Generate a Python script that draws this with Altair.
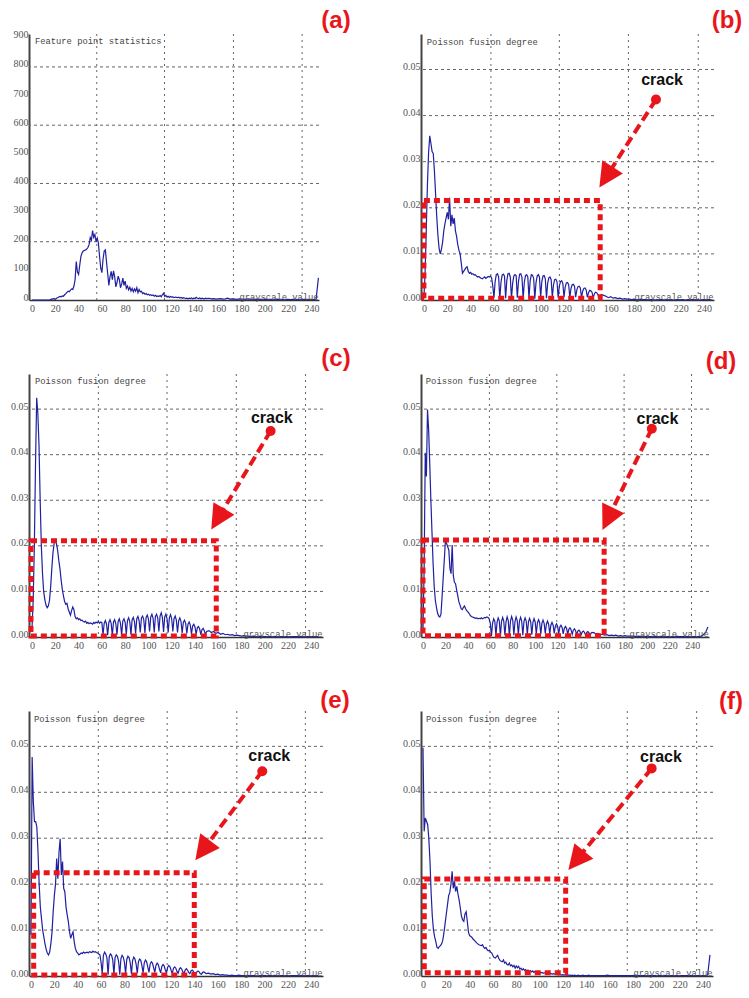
import math
import altair as alt
import pandas as pd

# ---------------- data ----------------
GRAY_X = list(range(0, 150)) + list(range(150, 248, 2))
GRAY_X_D = list(range(0, 150)) + list(range(150, 256, 2))
X_TICKS = list(range(0, 241, 20))

# (a) feature point counts
A_VALUES = [
    0, 0, 0, 0, 0, 0, 0, 0, 0, 0,
    0, 0, 0, 0, 0, 0, 2, 4, 3, 5,
    2, 6, 8, 10, 12, 11, 14, 13, 18, 22,
    26, 30, 28, 34, 38, 36, 48, 70, 132, 96,
    88, 120, 150, 162, 168, 170, 172, 175, 180, 190,
    214, 205, 238, 215, 225, 200, 212, 195, 150, 110,
    94, 140, 168, 172, 130, 90, 50, 80, 98, 70,
    100, 80, 45, 60, 82, 70, 42, 55, 75, 50,
    65, 40, 48, 35, 44, 31, 40, 28, 38, 30,
    42, 25, 36, 28, 30, 22, 25, 20, 22, 18,
    20, 16, 18, 15, 17, 13, 16, 12, 14, 12,
    15, 11, 18, 23, 12, 16, 10, 13, 9, 12,
    10, 11, 8, 10, 9, 8, 10, 7, 9, 6,
    8, 7, 5, 6, 4, 6, 5, 7, 4, 6,
    5, 9, 6, 5, 7, 4, 6, 5, 4, 6,
    5, 6, 4, 5, 3, 4, 5, 3, 4, 6,
    3, 4, 3, 2, 4, 3, 2, 3, 4, 2,
    3, 2, 3, 2, 2, 3, 2, 2, 1, 2,
    3, 2, 2, 1, 2, 2, 1, 2, 2, 1,
    2, 1, 2, 2, 1, 2, 1, 3, 76,
]

# Poisson fusion degree, in units of 1e-4
B_VALUES = [
    5, 60, 150, 250, 320, 356, 340, 322, 318, 280,
    230, 180, 140, 112, 100, 110, 125, 150, 165, 178,
    190, 175, 222, 160, 185, 165, 178, 150, 138, 120,
    108, 100, 80, 58, 62, 66, 70, 72, 62, 58,
    60, 56, 57, 54, 55, 52, 50, 51, 49, 47,
    46, 48, 50, 47, 49, 51, 50, 52, 48, 30,
    5, 40, 55, 57, 50, 3, 38, 54, 56, 52,
    4, 42, 57, 58, 50, 2, 36, 52, 55, 53,
    5, 40, 56, 57, 49, 3, 38, 53, 55, 50,
    4, 41, 55, 54, 47, 3, 37, 52, 55, 50,
    5, 40, 52, 53, 46, 4, 36, 48, 50, 44,
    6, 33, 44, 45, 40, 5, 30, 40, 42, 36,
    6, 28, 37, 38, 33, 5, 25, 33, 34, 30,
    6, 22, 29, 30, 26, 5, 19, 25, 26, 22,
    6, 16, 21, 20, 17, 5, 13, 17, 16, 12,
    6, 12, 10, 8, 5, 7, 4, 5, 3, 4,
    2, 3, 2, 2, 1, 2, 1, 1, 2, 1,
    1, 1, 1, 1, 0, 1, 1, 1, 0, 1,
    1, 1, 0, 1, 1, 1, 1, 0, 1, 1,
    1, 1, 1, 0, 1, 1, 1, 1, 1,
]

C_VALUES = [
    20, 80, 200, 380, 525, 490, 420, 300, 200, 140,
    100, 82, 70, 64, 68, 80, 110, 150, 185, 205,
    215, 205, 190, 168, 150, 125, 105, 90, 78, 72,
    74, 62, 55, 48, 58, 66, 60, 45, 40, 42,
    38, 40, 36, 37, 34, 33, 35, 30, 32, 29,
    31, 30, 28, 32, 30, 33, 31, 34, 30, 33,
    32, 5, 30, 36, 28, 4, 32, 38, 30, 3,
    33, 38, 29, 5, 34, 40, 30, 4, 35, 40,
    32, 6, 36, 42, 33, 5, 38, 43, 34, 8,
    40, 45, 36, 10, 42, 46, 38, 9, 43, 48,
    40, 12, 44, 50, 41, 10, 45, 50, 42, 12,
    46, 53, 43, 11, 44, 50, 40, 10, 42, 49,
    40, 12, 40, 46, 37, 10, 36, 42, 34, 9,
    32, 37, 30, 8, 28, 33, 26, 7, 24, 28,
    22, 6, 20, 23, 18, 5, 16, 19, 14, 5,
    12, 14, 10, 12, 8, 10, 6, 8, 5, 6,
    4, 5, 3, 4, 3, 2, 3, 2, 2, 1,
    2, 1, 1, 2, 1, 1, 1, 1, 1, 1,
    1, 1, 1, 1, 1, 1, 1, 1, 1, 1,
    1, 1, 1, 1, 1, 1, 1, 1, 1,
]

D_VALUES = [
    20, 150, 404, 352, 499, 455, 380, 300, 230, 160,
    110, 80, 65, 52, 46, 44, 50, 88, 130, 170,
    213, 205, 198, 191, 150, 139, 202, 135, 120, 117,
    103, 90, 77, 70, 62, 60, 65, 68, 62, 58,
    55, 52, 48, 45, 44, 43, 42, 41, 42, 40,
    41, 40, 42, 40, 41, 43, 42, 44, 43, 40,
    30, 2, 30, 40, 35, 3, 32, 42, 36, 2,
    34, 43, 35, 4, 33, 44, 36, 3, 35, 45,
    37, 4, 34, 44, 36, 5, 35, 43, 35, 4,
    34, 42, 35, 6, 33, 41, 34, 5, 32, 40,
    33, 7, 31, 38, 32, 6, 30, 37, 30, 8,
    28, 35, 28, 7, 26, 32, 26, 8, 24, 29,
    24, 7, 22, 26, 21, 7, 19, 23, 19, 6,
    17, 20, 16, 6, 15, 18, 14, 5, 13, 15,
    12, 5, 11, 13, 10, 4, 10, 12, 9, 4,
    9, 10, 7, 8, 5, 6, 4, 5, 3, 4,
    3, 4, 2, 3, 2, 3, 2, 2, 2, 2,
    1, 2, 1, 2, 1, 2, 1, 1, 2, 1,
    1, 1, 2, 1, 1, 1, 1, 1, 2, 1,
    1, 1, 1, 1, 1, 1, 1, 1, 1, 2,
    5, 10, 22,
]

E_VALUES = [
    90, 477, 380, 336, 336, 325, 270, 200, 150, 125,
    100, 85, 70, 58, 50, 46, 52, 70, 95, 140,
    175, 200, 256, 212, 270, 299, 220, 249, 191, 183,
    150, 133, 118, 96, 82, 90, 96, 75, 60, 53,
    50, 46, 48, 50, 49, 52, 50, 51, 52, 50,
    53, 52, 51, 54, 52, 53, 51, 50, 48, 46,
    30, 5, 45, 52, 48, 40, 3, 42, 48, 45,
    35, 4, 40, 46, 43, 32, 3, 38, 45, 41,
    30, 5, 36, 43, 40, 28, 4, 34, 41, 37,
    26, 6, 31, 37, 34, 22, 7, 29, 35, 31,
    20, 8, 26, 31, 28, 18, 8, 23, 28, 25,
    15, 7, 21, 25, 22, 13, 7, 19, 23, 20,
    12, 6, 17, 20, 17, 10, 6, 15, 18, 15,
    9, 5, 13, 16, 13, 8, 5, 11, 13, 10,
    6, 4, 9, 11, 9, 5, 4, 8, 9, 7,
    5, 6, 4, 5, 3, 4, 2, 3, 2, 2,
    1, 2, 1, 1, 2, 1, 1, 1, 1, 1,
    1, 1, 0, 1, 1, 1, 1, 1, 1, 1,
    1, 1, 1, 1, 1, 1, 1, 1, 1, 1,
    1, 1, 1, 1, 1, 1, 1, 1, 1,
]

F_VALUES = [
    497, 315, 344, 337, 330, 300, 250, 180, 130, 100,
    85, 75, 62, 60, 64, 66, 70, 78, 95, 115,
    135, 155, 175, 182, 200, 228, 191, 206, 184, 195,
    178, 165, 148, 130, 122, 119, 135, 140, 119, 95,
    88, 86, 84, 80, 78, 75, 72, 70, 68, 67,
    66, 68, 63, 60, 62, 57, 55, 56, 52, 50,
    44, 40, 39, 42, 45, 38, 34, 32, 31, 35,
    28, 30, 25, 24, 28, 22, 24, 20, 23, 17,
    22, 18, 21, 15, 17, 13, 16, 12, 14, 11,
    13, 10, 12, 9, 11, 8, 10, 8, 9, 7,
    8, 7, 8, 6, 7, 6, 6, 5, 6, 5,
    5, 4, 5, 4, 4, 3, 4, 3, 3, 2,
    3, 2, 3, 2, 2, 2, 2, 1, 2, 1,
    2, 1, 1, 2, 1, 1, 1, 2, 1, 1,
    1, 1, 2, 1, 1, 1, 1, 1, 1, 1,
    1, 1, 1, 1, 2, 1, 1, 1, 1, 1,
    1, 1, 1, 1, 1, 1, 2, 1, 1, 1,
    1, 1, 1, 1, 1, 1, 1, 1, 1, 1,
    1, 1, 1, 1, 1, 1, 1, 1, 1, 1,
    1, 1, 1, 1, 1, 1, 1, 2, 46,
]

POISSON_TICKS = [0.0, 0.01, 0.02, 0.03, 0.04, 0.05]
COUNT_TICKS = list(range(0, 901, 100))

PANELS = [
    dict(label="(a)", title="Feature point statistics", x=GRAY_X, v=A_VALUES, k=1.0,
         xd=[-2.6, 246.5], yd=[0, 913], w=290, h=266, yticks=COUNT_TICKS, fmt="d",
         hgrid=[200, 400, 600, 800], vgrid=[55.6, 113.8, 173.0, 232.0],
         ty=880, gy=1, lx=307, ly=-13),
    dict(label="(b)", title="Poisson fusion degree", x=GRAY_X, v=B_VALUES, k=1e-4,
         xd=[-2.5, 248.5], yd=[0, 0.0577], w=293, h=266, yticks=POISSON_TICKS, fmt=".2f",
         hgrid=[0.01, 0.02, 0.03, 0.04, 0.05], vgrid=[57.4, 116.0, 175.2, 235.0],
         box=(0.0, 151.0, 0.0004, 0.0216), arrow=((198.8, 0.0435), (150.3, 0.0244)),
         crack=(204, 0.0478), ty=0.0554, gy=0.0001, lx=306, ly=-13),
    dict(label="(c)", title="Poisson fusion degree", x=GRAY_X, v=C_VALUES, k=1e-4,
         xd=[-2.6, 250.0], yd=[0, 0.0577], w=294, h=263, yticks=POISSON_TICKS, fmt=".2f",
         hgrid=[0.01, 0.02, 0.03, 0.04, 0.05], vgrid=[57.0, 116.0, 175.5, 235.0],
         box=(-0.9, 158.3, 0.0002, 0.0211), arrow=((205, 0.0452), (154, 0.0236)),
         crack=(206, 0.0481), ty=0.0554, gy=0.0001, lx=307, ly=-15),
    dict(label="(d)", title="Poisson fusion degree", x=GRAY_X_D, v=D_VALUES, k=1e-4,
         xd=[-1.8, 255.0], yd=[0, 0.0577], w=288, h=263, yticks=POISSON_TICKS, fmt=".2f",
         hgrid=[0.01, 0.02, 0.03, 0.04, 0.05], vgrid=[59.2, 119.3, 179.3, 239.4],
         box=(0.0, 161.5, 0.0003, 0.0213), arrow=((204, 0.0457), (160, 0.0235)),
         crack=(209, 0.0478), ty=0.0554, gy=0.0001, lx=300, ly=-12),
    dict(label="(e)", title="Poisson fusion degree", x=GRAY_X, v=E_VALUES, k=1e-4,
         xd=[-1.7, 250.0], yd=[0, 0.0577], w=294, h=265, yticks=POISSON_TICKS, fmt=".2f",
         hgrid=[0.01, 0.02, 0.03, 0.04, 0.05], vgrid=[57.6, 116.6, 176.2, 234.9],
         box=(2.3, 139.8, 0.0002, 0.0225), arrow=((198, 0.0446), (140.7, 0.0252)),
         crack=(204, 0.0478), ty=0.0554, gy=0.0001, lx=306, ly=-10),
    dict(label="(f)", title="Poisson fusion degree", x=GRAY_X, v=F_VALUES, k=1e-4,
         xd=[-1.7, 248.6], yd=[0, 0.0577], w=292, h=265, yticks=POISSON_TICKS, fmt=".2f",
         hgrid=[0.01, 0.02, 0.03, 0.04, 0.05], vgrid=[57.4, 116.0, 175.1, 234.6],
         box=(1.1, 122.3, 0.0007, 0.0211), arrow=((196, 0.0452), (124.6, 0.0231)),
         crack=(204, 0.0477), ty=0.0554, gy=0.0001, lx=310, ly=-9),
]

for p in PANELS:
    assert len(p["x"]) == len(p["v"]), (p["label"], len(p["x"]), len(p["v"]))

# ---------------- styling ----------------
BLUE = "#2020a0"
RED = "#e8161b"
GRID = "#666666"
MONO = "Liberation Mono"
HEAD = "M0,0L0.5,1L-0.5,1Z"


def build(p):
    xs = alt.Scale(domain=p["xd"], nice=False, zero=False)
    ys = alt.Scale(domain=p["yd"], nice=False, zero=False)
    xax = alt.Axis(values=X_TICKS, labelOverlap=False, labelFlush=False)
    yax = alt.Axis(values=p["yticks"], format=p["fmt"], labelOverlap=False, labelFlush=False)

    def X(f):
        return alt.X(f, type="quantitative", scale=xs, axis=xax, title=None)

    def Y(f):
        return alt.Y(f, type="quantitative", scale=ys, axis=yax, title=None)

    curve_df = pd.DataFrame({"gray": p["x"], "val": [v * p["k"] for v in p["v"]]})

    layers = []
    layers.append(
        alt.Chart(pd.DataFrame({"val": p["hgrid"]}))
        .mark_rule(color=GRID, strokeDash=[3, 3], strokeWidth=1)
        .encode(y=Y("val"))
    )
    layers.append(
        alt.Chart(pd.DataFrame({"gray": p["vgrid"]}))
        .mark_rule(color=GRID, strokeDash=[2, 4], strokeWidth=1)
        .encode(x=X("gray"))
    )
    layers.append(
        alt.Chart(curve_df)
        .mark_line(color=BLUE, strokeWidth=1.2)
        .encode(x=X("gray"), y=Y("val"))
    )
    layers.append(
        alt.Chart(pd.DataFrame({"gray": [2.5], "val": [p["ty"]], "t": [p["title"]]}))
        .mark_text(align="left", baseline="alphabetic", font=MONO, fontSize=8.8, color="#444")
        .encode(x=X("gray"), y=Y("val"), text="t:N")
    )
    layers.append(
        alt.Chart(pd.DataFrame({"gray": [p["xd"][1] - 0.3], "val": [p["gy"]], "t": ["grayscale value"]}))
        .mark_text(align="right", baseline="alphabetic", font=MONO, fontSize=8.8, color="#555")
        .encode(x=X("gray"), y=Y("val"), text="t:N")
    )

    if "box" in p:
        bx0, bx1, by0, by1 = p["box"]
        layers.append(
            alt.Chart(pd.DataFrame({"gray": [bx0], "gray2": [bx1], "val": [by0], "val2": [by1]}))
            .mark_rect(fillOpacity=0, stroke=RED, strokeWidth=5, strokeDash=[6, 4])
            .encode(x=X("gray"), x2=alt.X2("gray2"), y=Y("val"), y2=alt.Y2("val2"))
        )
        (x0, y0), (x1, y1) = p["arrow"]
        ppx = p["w"] / (p["xd"][1] - p["xd"][0])
        ppy = p["h"] / (p["yd"][1] - p["yd"][0])
        dx = (x1 - x0) * ppx
        dy = -(y1 - y0) * ppy
        L = math.hypot(dx, dy)
        ux, uy = dx / L, dy / L
        ang = math.degrees(math.atan2(ux, -uy)) % 360
        back = 14
        xe = x1 - ux * back / ppx
        ye = y1 + uy * back / ppy
        layers.append(
            alt.Chart(pd.DataFrame({"gray": [x0, xe], "val": [y0, ye], "o": [0, 1]}))
            .mark_line(color=RED, strokeWidth=4, strokeDash=[10, 5])
            .encode(x=X("gray"), y=Y("val"), order="o:Q")
        )
        layers.append(
            alt.Chart(pd.DataFrame({"gray": [x0], "val": [y0]}))
            .mark_point(shape="circle", filled=True, size=100, color=RED, opacity=1)
            .encode(x=X("gray"), y=Y("val"))
        )
        layers.append(
            alt.Chart(pd.DataFrame({"gray": [x1], "val": [y1]}))
            .mark_point(shape=HEAD, filled=True, size=2400, angle=ang, color=RED, opacity=1, strokeWidth=0)
            .encode(x=X("gray"), y=Y("val"))
        )
        cx, cy = p["crack"]
        layers.append(
            alt.Chart(pd.DataFrame({"gray": [cx], "val": [cy], "t": ["crack"]}))
            .mark_text(font="Liberation Sans", fontWeight="bold", fontSize=16, color="#111",
                       align="center", baseline="middle")
            .encode(x=X("gray"), y=Y("val"), text="t:N")
        )

    layers.append(
        alt.Chart(pd.DataFrame({"t": [p["label"]]}))
        .mark_text(font="Liberation Sans", fontWeight="bold", fontSize=24, color=RED,
                   align="center", baseline="middle")
        .encode(x=alt.value(p["lx"]), y=alt.value(p["ly"]), text="t:N")
    )
    return alt.layer(*layers).properties(width=p["w"], height=p["h"])


charts = [build(p) for p in PANELS]

chart = (
    alt.concat(*charts, columns=2, spacing={"row": 74, "column": 98}, bounds="flush")
    .properties(padding={"left": 10, "top": 9, "right": 2, "bottom": 2})
    .configure_view(stroke=None)
    .configure_axis(grid=False, ticks=False, labelFont="Liberation Serif", labelFontSize=10,
                    labelColor="#555", domainColor="#333")
    .configure_axisX(domainWidth=1.5, labelPadding=3)
    .configure_axisY(domainWidth=2, labelPadding=1, labelBaseline="alphabetic", domainColor="#444")
)

chart.save("out.html", embed_options={"renderer": "svg", "actions": False})
